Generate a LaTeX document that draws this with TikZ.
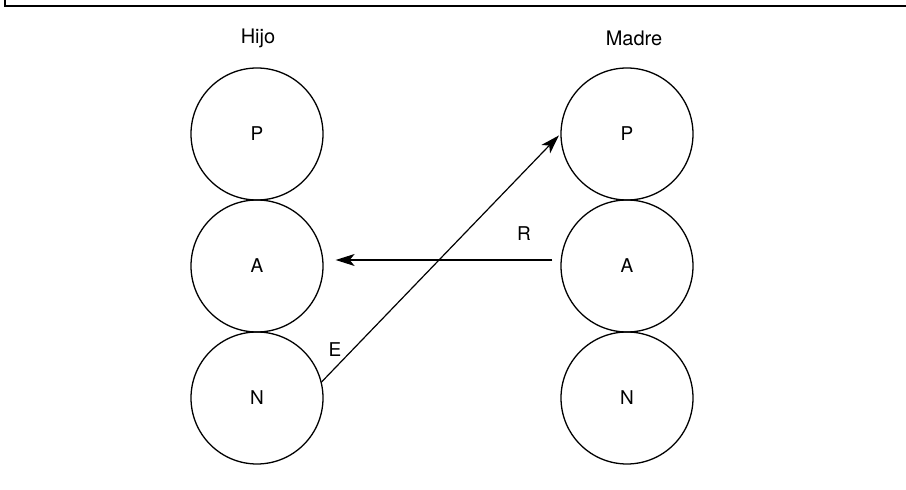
\documentclass[tikz,border=0pt]{standalone}
\usepackage{fontspec}
\setmainfont{TeX Gyre Heros}
\usetikzlibrary{arrows.meta}
\begin{document}
\begin{tikzpicture}[x=1pt,y=1pt,
  state/.style={circle,draw,line width=1.3pt,minimum size=132pt,inner sep=0pt,font=\fontsize{19}{21}\selectfont},
  head/.style={font=\fontsize{20}{23}\selectfont},
  lbl/.style={font=\fontsize{19}{21}\selectfont},
  link/.style={line width=1.2pt,-{Stealth[length=19pt,width=12pt,inset=5pt]}}]
\useasboundingbox (0,0) rectangle (906,490);
% frame
\draw[line width=2pt] (5,490) -- (5,484) -- (906,484);
% column headings
\node[head] (hijo) at (258,452) {Hijo};
\node[head] (madre) at (634,452) {Madre};
% child states
\node[state] (hP) at (257,356) {P};
\node[state] (hA) at (257,224) {A};
\node[state] (hN) at (257,92) {N};
% mother states
\node[state] (mP) at (627,356) {P};
\node[state] (mA) at (627,224) {A};
\node[state] (mN) at (627,92) {N};
% transactions
\draw[link,shorten >=2pt] (hN.14) -- (mP.west);
\draw[link] ([shift={(-8pt,6pt)}]mA.west) -- ([shift={(12pt,6pt)}]hA.east);
\node[lbl] (e) at (335,140) {E};
\node[lbl] (r) at (524,256) {R};
\end{tikzpicture}
\end{document}
